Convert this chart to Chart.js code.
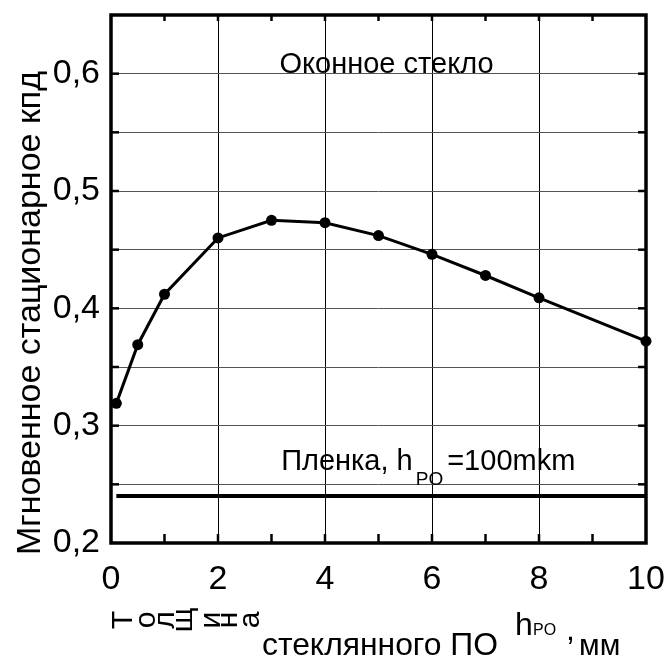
<html>
  <head>
    <meta charset="utf-8" />
    <script src="https://cdn.jsdelivr.net/npm/chart.js@4.4.0/dist/chart.umd.min.js"></script>
    <style>
      body { margin: 0; background: #fff; }
    </style>
  </head>
  <body>
    <canvas id="myChart" width="669" height="659"></canvas>

    <script>
      // толщина стекла, мм
      const thickness = [0.1, 0.5, 1, 2, 3, 4, 5, 6, 7, 8, 10];
      // мгновенное стационарное кпд
      const efficiency = [0.319, 0.369, 0.412, 0.46, 0.475, 0.473, 0.462, 0.446, 0.428, 0.409, 0.372];
      // плёнка 100 мкм
      const filmX = [0.1, 10];
      const filmY = [0.24, 0.24];

      const xTicks = [0, 1, 2, 3, 4, 5, 6, 7, 8, 9, 10];
      const xLabels = ["0", "", "2", "", "4", "", "6", "", "8", "", "10"];
      const yTicks = [0.2, 0.25, 0.3, 0.35, 0.4, 0.45, 0.5, 0.55, 0.6, 0.65];
      const yLabels = ["0,2", "", "0,3", "", "0,4", "", "0,5", "", "0,6", ""];

      const FONT = "'Liberation Sans', Arial, sans-serif";

      const idx = (arr, v) => arr.findIndex((t) => Math.abs(t - v) < 1e-6);

      const overlay = {
        id: "overlay",
        afterDraw(chart) {
          const { ctx, chartArea: a, scales } = chart;
          const x = scales.x, y = scales.y;
          const seg = (x1, y1, x2, y2) => {
            ctx.beginPath();
            ctx.moveTo(x1, y1);
            ctx.lineTo(x2, y2);
            ctx.stroke();
          };
          ctx.save();
          ctx.strokeStyle = "#000";
          ctx.fillStyle = "#000";

          // ticks pointing inward
          ctx.lineWidth = 2.5;
          xTicks.slice(1, -1).forEach((v) => {
            const px = x.getPixelForValue(v);
            seg(px, a.bottom, px, a.bottom - 9);
            seg(px, a.top, px, a.top + 6);
          });
          yTicks.slice(1, -1).forEach((v) => {
            const py = y.getPixelForValue(v);
            seg(a.left, py, a.left + 8, py);
            seg(a.right, py, a.right - 8, py);
          });

          // frame
          ctx.lineWidth = 3.5;
          ctx.strokeRect(a.left, a.top, a.right - a.left, a.bottom - a.top);

          // annotations
          ctx.textBaseline = "alphabetic";
          ctx.textAlign = "center";
          ctx.font = "29px " + FONT;
          ctx.fillText("Оконное стекло", x.getPixelForValue(5.15), y.getPixelForValue(0.6) - 1);

          ctx.textAlign = "left";
          let px = x.getPixelForValue(3.18);
          const by = y.getPixelForValue(0.262);
          ctx.font = "29px " + FONT;
          ctx.fillText("Пленка, h", px, by);
          px += ctx.measureText("Пленка, h").width + 3;
          ctx.font = "19px " + FONT;
          ctx.fillText("PO", px, by + 15);
          px += ctx.measureText("PO").width + 4;
          ctx.font = "29px " + FONT;
          ctx.fillText("=100mkm", px, by);

          // y title
          ctx.save();
          ctx.translate(40, 313);
          ctx.rotate(-Math.PI / 2);
          ctx.textAlign = "center";
          ctx.font = "34px " + FONT;
          ctx.fillText("Мгновенное стационарное кпд", 0, 0);
          ctx.restore();

          // x title: rotated letters
          const word = "Толщина";
          const cx = [124, 147, 166, 184, 212, 229, 251];
          ctx.font = "30px " + FONT;
          ctx.textAlign = "center";
          ctx.textBaseline = "middle";
          for (let i = 0; i < word.length; i++) {
            ctx.save();
            ctx.translate(cx[i], 620);
            ctx.rotate(-Math.PI / 2);
            ctx.fillText(word[i], 0, 0);
            ctx.restore();
          }
          ctx.textAlign = "left";
          ctx.textBaseline = "alphabetic";
          ctx.font = "32px " + FONT;
          ctx.fillText("стеклянного ПО", 262, 655, 236);
          ctx.fillText("h", 515, 635);
          ctx.font = "16px " + FONT;
          ctx.fillText("PO", 533, 635);
          ctx.font = "32px " + FONT;
          ctx.fillText(",", 566, 640);
          ctx.font = "30px " + FONT;
          ctx.fillText("мм", 579, 655);

          ctx.restore();
        },
      };

      const data = {
        datasets: [
          {
            label: "стекло",
            data: thickness.map((t, i) => ({ x: t, y: efficiency[i] })),
            borderColor: "#000",
            backgroundColor: "#000",
            borderWidth: 3,
            pointRadius: 5.5,
            pointBackgroundColor: "#000",
            pointBorderWidth: 0,
            tension: 0,
            clip: false,
          },
          {
            label: "пленка",
            data: filmX.map((t, i) => ({ x: t, y: filmY[i] })),
            borderColor: "#000",
            borderWidth: 4,
            pointRadius: 0,
            tension: 0,
          },
        ],
      };

      const config = {
        type: "line",
        data: data,
        options: {
          responsive: false,
          animation: false,
          devicePixelRatio: 1,
          layout: { padding: { top: 15, right: 23, left: 0, bottom: 0 } },
          plugins: {
            legend: { display: false },
            tooltip: { enabled: false },
          },
          scales: {
            x: {
              type: "linear",
              min: 0,
              max: 10,
              afterBuildTicks: (s) => {
                s.ticks = xTicks.map((v) => ({ value: v }));
              },
              afterFit: (s) => {
                s.height = 116;
                s.paddingLeft = 0;
                s.paddingRight = 0;
              },
              border: { display: false },
              grid: {
                drawTicks: false,
                lineWidth: 1,
                color: (c) =>
                  c.tick && c.tick.value % 2 === 0 && c.tick.value > 0 && c.tick.value < 10
                    ? "#000"
                    : "rgba(0,0,0,0)",
              },
              ticks: {
                padding: 16,
                color: "#000",
                maxRotation: 0,
                autoSkip: false,
                font: { family: FONT, size: 34 },
                callback: (v) => xLabels[idx(xTicks, v)],
              },
            },
            y: {
              min: 0.2,
              max: 0.65,
              afterBuildTicks: (s) => {
                s.ticks = yTicks.map((v) => ({ value: v }));
              },
              afterFit: (s) => {
                s.width = 111;
                s.paddingTop = 0;
                s.paddingBottom = 0;
              },
              border: { display: false },
              grid: {
                drawTicks: false,
                lineWidth: 1,
                color: "#555",
              },
              ticks: {
                padding: 11,
                color: "#000",
                autoSkip: false,
                font: { family: FONT, size: 34 },
                callback: (v) => yLabels[idx(yTicks, v)],
              },
            },
          },
        },
        plugins: [overlay],
      };

      const myChart = new Chart(document.getElementById("myChart"), config);
    </script>
  </body>
</html>
